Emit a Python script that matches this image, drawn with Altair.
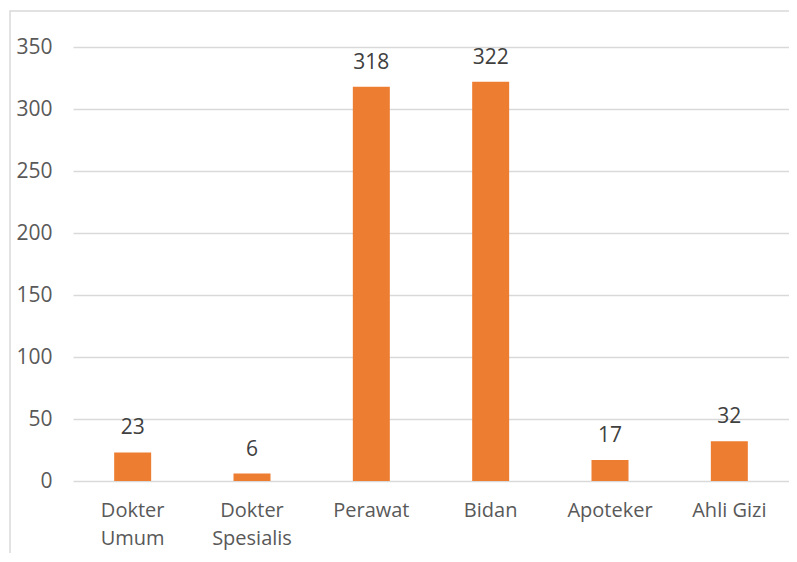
import altair as alt
import pandas as pd

categories = ["Dokter Umum", "Dokter Spesialis", "Perawat", "Bidan", "Apoteker", "Ahli Gizi"]
values = [23, 6, 318, 322, 17, 32]
y_ticks = [0, 50, 100, 150, 200, 250, 300, 350]

df = pd.DataFrame({"kategori": categories, "jumlah": values})

W, H = 716, 434
FONT = "Open Sans"
TXT = "#595959"

x_enc = alt.X(
    "kategori:N",
    sort=categories,
    scale=alt.Scale(paddingInner=0.69, paddingOuter=0.345),
    axis=alt.Axis(
        title=None,
        labelAngle=0,
        domain=False,
        ticks=False,
        grid=False,
        labelPadding=19,
        labelFontSize=20,
        labelFont=FONT,
        labelColor=TXT,
        labelLineHeight=28,
        labelBaseline="top",
        labelExpr="indexof(datum.label, 'Dokter') == 0 ? split(datum.label, ' ') : datum.label",
    ),
)
y_enc = alt.Y(
    "jumlah:Q",
    scale=alt.Scale(domain=[0, 350]),
    axis=alt.Axis(
        title=None,
        values=y_ticks,
        domain=False,
        ticks=False,
        grid=True,
        gridColor="#d9d9d9",
        gridWidth=1.5,
        labelPadding=21,
        labelFontSize=21,
        labelFont=FONT,
        labelColor=TXT,
    ),
)

bars = alt.Chart(df).mark_bar(color="#ED7D31").encode(x=x_enc, y=y_enc)
labels = alt.Chart(df).mark_text(
    dy=-18, baseline="alphabetic", fontSize=21, font=FONT, color="#404040"
).encode(x=alt.X("kategori:N", sort=categories), y="jumlah:Q", text="jumlah:Q")

frame = alt.Chart(pd.DataFrame({"f": [0]})).mark_rect(
    fill="transparent", stroke="#d9d9d9", strokeWidth=1.5, clip=False
).encode(
    x=alt.value(-63), x2=alt.value(W + 30), y=alt.value(-36), y2=alt.value(H + 150)
)

chart = alt.layer(frame, bars, labels).properties(
    width=W,
    height=H,
    background="white",
    autosize=alt.AutoSizeParams(type="none"),
    padding={"left": 65, "top": 39, "right": 0, "bottom": 72},
).configure_view(strokeWidth=0, stroke="transparent")

chart.save("out.html", embed_options={"renderer": "svg", "actions": False})
